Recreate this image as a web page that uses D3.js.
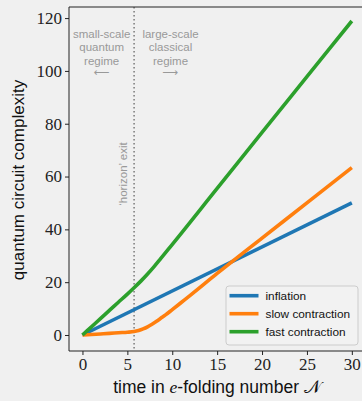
<!DOCTYPE html>
<html>
<head>
<meta charset="utf-8">
<script src="https://cdn.jsdelivr.net/npm/d3@7"></script>
<style>
  html, body { margin: 0; padding: 0; background: #f0f0f0; }
  svg { display: block; }
</style>
</head>
<body>
<svg id="chart" width="362" height="401"></svg>
<script>
// Complexity growth versus e-folding number for three cosmological scenarios
const xTicks = [0, 5, 10, 15, 20, 25, 30];
const yTicks = [0, 20, 40, 60, 80, 100, 120];

const inflationN = [0, 30];
const inflationC = [0, 50];

const slowN = [0, 1, 2, 3, 4, 5, 5.75, 6.25, 6.75, 7.25, 7.75, 8.25, 8.75, 9.25, 10, 11, 12, 15, 20, 25, 30];
const slowC = [0, 0.2, 0.4, 0.6, 0.85, 1.05, 1.3, 1.7, 2.3, 3.1, 4.1, 5.2, 6.4, 7.6, 9.6, 12.3, 15.0, 23.3, 36.7, 50.0, 63.4];

const fastN = [0, 1, 2, 3, 4, 5, 5.75, 6.5, 7.25, 8, 8.75, 9.5, 15, 20, 25, 30];
const fastC = [0, 3.1, 6.2, 9.3, 12.4, 15.5, 17.9, 20.4, 23.1, 26.0, 29.1, 32.2, 55.5, 76.7, 97.8, 118.9];

const seriesNames = ["inflation", "slow contraction", "fast contraction"];
const seriesColors = ["#1f77b4", "#ff7f0e", "#2ca02c"];

const horizonExit = 5.75;

const svg = d3.select("#chart");
const plotLeft = 69, plotRight = 365.3, plotTop = 7, plotBottom = 351;

const x = d3.scaleLinear().domain([-1.5, 31.5]).range([plotLeft, plotRight]);
const y = d3.scaleLinear().domain([-6.06, 124.2]).range([plotBottom, plotTop]);

const series = [
  inflationN.map((n, i) => [n, inflationC[i]]),
  slowN.map((n, i) => [n, slowC[i]]),
  fastN.map((n, i) => [n, fastC[i]])
];

const gray = "#999999";

// horizon-exit marker
svg.append("line")
  .attr("x1", x(horizonExit)).attr("x2", x(horizonExit))
  .attr("y1", plotTop).attr("y2", plotBottom)
  .attr("stroke", "#808080").attr("stroke-width", 1.6)
  .attr("stroke-dasharray", "1.6,2.4");

svg.append("text")
  .attr("transform", `translate(${x(horizonExit) - 7},174) rotate(-90)`)
  .attr("text-anchor", "middle")
  .attr("font-family", "Liberation Sans, Arial, sans-serif")
  .attr("font-size", 11.5)
  .attr("fill", gray)
  .text("\u2018horizon\u2019 exit");

// regime annotations
const regimes = [
  { cx: 101.7, lines: ["small-scale", "quantum", "regime"], arrow: "\u27F5" },
  { cx: 170.5, lines: ["large-scale", "classical", "regime"], arrow: "\u27F6" }
];
regimes.forEach(r => {
  const t = svg.append("text")
    .attr("text-anchor", "middle")
    .attr("font-family", "Liberation Sans, Arial, sans-serif")
    .attr("font-size", 11.5)
    .attr("fill", gray);
  r.lines.forEach((s, i) => {
    t.append("tspan").attr("x", r.cx).attr("y", 38 + i * 13.3).text(s);
  });
  svg.append("text")
    .attr("x", r.cx).attr("y", 76)
    .attr("text-anchor", "middle")
    .attr("font-family", "DejaVu Sans, sans-serif")
    .attr("font-size", 11)
    .attr("fill", gray)
    .text(r.arrow);
});

// curves
const line = d3.line().x(d => x(d[0])).y(d => y(d[1])).curve(d3.curveMonotoneX);
series.forEach((s, i) => {
  svg.append("path")
    .datum(s)
    .attr("d", line)
    .attr("fill", "none")
    .attr("stroke", seriesColors[i])
    .attr("stroke-width", 3.6)
    .attr("stroke-linecap", "butt");
});

// frame
svg.append("line").attr("x1", plotLeft).attr("x2", 362).attr("y1", plotTop).attr("y2", plotTop)
  .attr("stroke", "#222").attr("stroke-width", 1);
svg.append("line").attr("x1", plotLeft).attr("x2", 362).attr("y1", plotBottom).attr("y2", plotBottom)
  .attr("stroke", "#222").attr("stroke-width", 1);
svg.append("line").attr("x1", plotLeft).attr("x2", plotLeft).attr("y1", plotTop).attr("y2", plotBottom)
  .attr("stroke", "#222").attr("stroke-width", 1);

// axes
const tickFont = "Liberation Serif, 'DejaVu Serif', serif";
const xAxis = svg.append("g").attr("transform", `translate(0,${plotBottom})`)
  .call(d3.axisBottom(x).tickValues(xTicks).tickSize(4).tickPadding(3).tickFormat(d3.format("d")));
const yAxis = svg.append("g").attr("transform", `translate(${plotLeft},0)`)
  .call(d3.axisLeft(y).tickValues(yTicks).tickSize(4).tickPadding(3).tickFormat(d3.format("d")));
[xAxis, yAxis].forEach(g => {
  g.select(".domain").remove();
  g.selectAll(".tick line").attr("stroke", "#222");
  g.selectAll(".tick text").attr("font-family", tickFont).attr("font-size", 17).attr("fill", "#222");
});

// axis titles
const xl = svg.append("text")
  .attr("x", 217).attr("y", 393)
  .attr("text-anchor", "middle")
  .attr("font-family", "Liberation Sans, Arial, sans-serif")
  .attr("font-size", 17.5)
  .attr("fill", "#111");
xl.append("tspan").text("time in ");
xl.append("tspan").attr("font-family", tickFont).attr("font-style", "italic").text("e");
xl.append("tspan").text("-folding number ");
xl.append("tspan").attr("font-family", tickFont).text("\uD835\uDCA9");

svg.append("text")
  .attr("transform", "translate(24,180) rotate(-90)")
  .attr("text-anchor", "middle")
  .attr("font-family", "Liberation Sans, Arial, sans-serif")
  .attr("font-size", 17)
  .attr("fill", "#111")
  .text("quantum circuit complexity");

// legend
const lg = svg.append("g");
lg.append("rect")
  .attr("x", 226).attr("y", 286).attr("width", 132).attr("height", 59)
  .attr("rx", 3)
  .attr("fill", "#f2f2f2").attr("fill-opacity", 0.8)
  .attr("stroke", "#cccccc");
seriesNames.forEach((name, i) => {
  const cy = 295.7 + i * 18;
  lg.append("line")
    .attr("x1", 229.5).attr("x2", 258.5).attr("y1", cy).attr("y2", cy)
    .attr("stroke", seriesColors[i]).attr("stroke-width", 3.6);
  lg.append("text")
    .attr("x", 265.5).attr("y", cy + 4)
    .attr("font-family", "Liberation Sans, Arial, sans-serif")
    .attr("font-size", 11.8)
    .attr("fill", "#111")
    .text(name);
});
</script>
</body>
</html>
